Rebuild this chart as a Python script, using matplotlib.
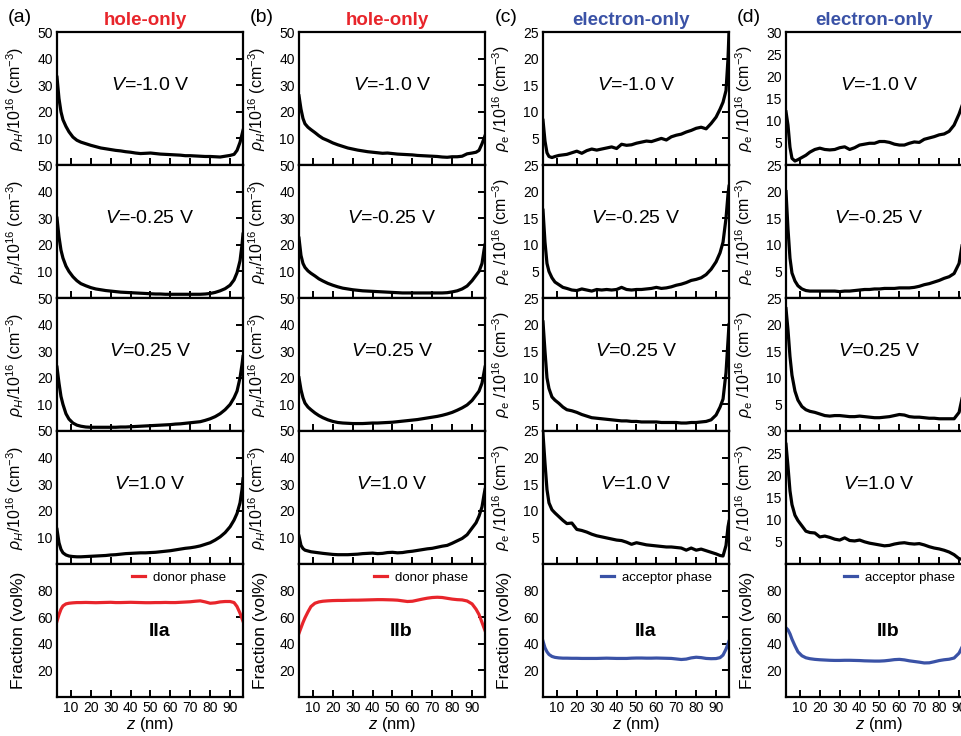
import matplotlib
matplotlib.use('Agg')
import matplotlib.pyplot as plt

# ---- fonts ----
plt.rcParams['font.family'] = ['Liberation Sans', 'DejaVu Sans']
plt.rcParams['mathtext.fontset'] = 'custom'
plt.rcParams['mathtext.rm'] = 'Liberation Sans'
plt.rcParams['mathtext.it'] = 'Liberation Sans:italic'
plt.rcParams['mathtext.bf'] = 'Liberation Sans:bold'

# ---- data ----
z_nm = [3, 4, 5, 6, 7.5, 9, 11, 13, 15, 17.5, 20, 22.5, 25, 27.5, 30, 32.5, 35, 37.5,
        40, 42.5, 45, 47.5, 50, 52.5, 55, 57.5, 60, 62.5, 65, 67.5, 70, 72.5, 75,
        77.5, 80, 82.5, 85, 87.5, 90, 92, 93.5, 95, 96, 96.5]

voltages = ['-1.0', '-0.25', '0.25', '1.0']

# (a) hole-only, IIa
hole_a_m10 = [33, 25, 20, 17, 14.5, 12.5, 10.5, 9.3, 8.6, 8.0, 7.4, 6.9, 6.4, 6.1, 5.8, 5.5, 5.3, 5.0,
              4.8, 4.5, 4.3, 4.4, 4.5, 4.3, 4.1, 4.0, 3.9, 3.8, 3.7, 3.5, 3.5, 3.4, 3.3,
              3.2, 3.2, 3.1, 3.0, 3.3, 3.6, 4.0, 5.5, 8.5, 11.5, 13]
hole_a_m025 = [30, 23, 18, 15, 12, 10, 8, 6.5, 5.4, 4.6, 3.9, 3.4, 3.1, 2.8, 2.6, 2.4, 2.2, 2.1,
               2.0, 1.9, 1.8, 1.7, 1.6, 1.5, 1.5, 1.4, 1.4, 1.4, 1.4, 1.4, 1.4, 1.4, 1.4,
               1.5, 1.7, 2.1, 2.7, 3.5, 4.8, 6.8, 9.5, 14, 20, 24]
hole_a_p025 = [24, 18, 13, 10, 6.5, 4.5, 3.0, 2.2, 1.8, 1.5, 1.4, 1.4, 1.4, 1.4, 1.4, 1.4, 1.5, 1.5,
               1.6, 1.7, 1.8, 1.9, 2.0, 2.1, 2.2, 2.3, 2.4, 2.6, 2.7, 2.9, 3.1, 3.3, 3.5,
               4.0, 4.6, 5.4, 6.5, 8.0, 10, 12.5, 15, 20, 25, 28]
hole_a_p10 = [13, 8, 5.5, 4.2, 3.4, 3.0, 2.8, 2.7, 2.7, 2.8, 2.9, 3.0, 3.1, 3.2, 3.4, 3.5, 3.7, 3.9,
              4.0, 4.1, 4.2, 4.2, 4.3, 4.4, 4.6, 4.8, 5.0, 5.3, 5.6, 5.9, 6.1, 6.4, 6.8,
              7.4, 8.0, 9.0, 10.2, 11.8, 14, 16.5, 19, 23, 28, 32]
frac_a = [57, 62, 66, 68.5, 70, 70.5, 70.8, 71, 71, 71.1, 71, 70.9, 71, 71.1, 71.2, 71, 71, 71.1,
          71.2, 71.1, 71, 70.9, 70.9, 71, 71, 71.1, 71, 71, 71.2, 71.4, 71.6, 72, 72.3,
          71.5, 70.5, 70.8, 71.5, 71.8, 71.8, 71, 68, 63, 59, 57]

# (b) hole-only, IIb
hole_b_m10 = [26, 21, 17.5, 15.5, 14.2, 13.3, 12.2, 11.0, 10.0, 9.2, 8.3, 7.6, 7.0, 6.4, 6.0, 5.6, 5.3, 5.0,
              4.8, 4.6, 4.4, 4.5, 4.3, 4.1, 4.0, 3.9, 3.8, 3.6, 3.5, 3.4, 3.3, 3.2, 3.0,
              2.9, 3.1, 3.1, 3.3, 4.2, 4.5, 4.8, 5.5, 8, 10, 11]
hole_b_m025 = [22.5, 16, 13, 11.5, 10.2, 9.3, 8.3, 7.2, 6.4, 5.5, 4.8, 4.2, 3.7, 3.4, 3.1, 2.9, 2.7, 2.6,
               2.5, 2.4, 2.3, 2.2, 2.1, 2.0, 1.9, 1.9, 1.9, 1.9, 1.9, 1.9, 1.9, 1.9, 1.9,
               2.0, 2.3, 2.7, 3.4, 4.5, 6.5, 8.5, 10, 13, 18, 20]
hole_b_p025 = [20, 15.5, 12.5, 10.5, 9, 8, 6.8, 5.8, 5.0, 4.2, 3.6, 3.2, 3.0, 2.9, 2.8, 2.8, 2.8, 2.9,
               3.0, 3.0, 3.1, 3.2, 3.3, 3.5, 3.7, 3.9, 4.1, 4.3, 4.6, 4.9, 5.2, 5.5, 5.9,
               6.4, 7.0, 7.8, 8.7, 9.8, 11.5, 13.5, 15, 18, 22, 24]
hole_b_p10 = [10.5, 7, 5.8, 5.2, 4.9, 4.6, 4.4, 4.2, 4.0, 3.8, 3.6, 3.5, 3.5, 3.5, 3.6, 3.7, 3.9, 4.0,
              4.1, 3.9, 4.0, 4.3, 4.4, 4.2, 4.3, 4.6, 4.8, 5.1, 5.4, 5.7, 5.9, 6.3, 6.7,
              7.0, 7.8, 8.7, 9.6, 11, 13.5, 15.5, 18, 21.5, 26, 28]
frac_b = [48, 52, 56, 59.5, 64, 68, 70.5, 71.5, 72, 72.3, 72.5, 72.6, 72.6, 72.7, 72.8, 72.8, 72.9, 73,
          73.1, 73.2, 73.2, 73.1, 73, 72.8, 72.3, 71.8, 72, 72.8, 73.6, 74.3, 74.8, 75, 74.8,
          74.2, 73.6, 73.2, 73, 72.2, 70, 66, 62, 56, 52, 50]

# (c) electron-only, IIa
elec_c_m10 = [8.4, 4.5, 2.3, 1.6, 1.4, 1.6, 1.8, 1.9, 2.0, 2.3, 2.6, 2.2, 2.7, 3.0, 2.8, 3.0, 3.2, 3.4,
              3.1, 3.9, 3.7, 3.8, 4.1, 4.3, 4.5, 4.4, 4.7, 5.0, 4.7, 5.3, 5.6, 5.8, 6.2,
              6.5, 6.9, 7.1, 6.8, 7.8, 9.0, 10.5, 11.8, 14, 20, 25]
elec_c_m025 = [16.5, 10.5, 6.5, 5.0, 3.8, 3.0, 2.5, 2.0, 1.8, 1.5, 1.4, 1.7, 1.5, 1.3, 1.6, 1.5, 1.6, 1.5,
               1.6, 2.0, 1.6, 1.5, 1.6, 1.6, 1.7, 1.8, 2.0, 1.8, 1.9, 2.1, 2.4, 2.6, 2.9,
               3.3, 3.5, 3.8, 4.4, 5.4, 6.8, 8.5, 10.5, 15, 19.5, 21]
elec_c_p025 = [20.5, 15, 10, 8, 6.4, 5.8, 5.2, 4.5, 4.0, 3.8, 3.5, 3.1, 2.8, 2.5, 2.4, 2.3, 2.2, 2.1,
               2.0, 1.9, 1.9, 1.8, 1.8, 1.7, 1.7, 1.7, 1.7, 1.6, 1.6, 1.6, 1.6, 1.5, 1.5,
               1.6, 1.6, 1.7, 1.8, 2.1, 3.0, 4.5, 6.0, 11, 17, 20]
elec_c_p10 = [24.5, 19, 14, 11.5, 10.2, 9.6, 8.9, 8.2, 7.6, 7.7, 6.5, 6.3, 6.0, 5.6, 5.3, 5.1, 4.9, 4.7,
              4.5, 4.4, 4.1, 3.7, 4.0, 3.8, 3.6, 3.5, 3.4, 3.3, 3.2, 3.2, 3.1, 3.0, 2.6,
              3.0, 2.6, 2.8, 2.5, 2.2, 1.9, 1.6, 1.5, 3.5, 7, 8]
frac_c = [42, 37, 34, 32, 30.5, 29.8, 29.4, 29.2, 29.2, 29.1, 29.1, 29.0, 29.0, 29.0, 29.0, 29.1, 29.2, 29.1,
          29.0, 29.0, 29.0, 29.2, 29.3, 29.3, 29.2, 29.2, 29.3, 29.2, 29.1, 29.0, 28.6, 28.2, 28.5,
          29.4, 29.9, 29.6, 29.0, 28.8, 28.9, 29.6, 31.5, 36, 40, 42]

# (d) electron-only, IIb
elec_d_m10 = [12, 9, 4, 1.5, 0.9, 1.2, 1.7, 2.2, 2.9, 3.5, 3.8, 3.5, 3.4, 3.5, 3.9, 4.1, 3.5, 3.9,
              4.5, 4.7, 4.9, 4.9, 5.3, 5.3, 5.1, 4.7, 4.5, 4.5, 4.9, 5.2, 5.1, 5.8, 6.1,
              6.4, 6.8, 7.0, 7.6, 9.0, 11.5, 14, 17, 22, 26, 28]
elec_d_m025 = [20, 13, 7.5, 4.7, 3.2, 2.3, 1.7, 1.4, 1.3, 1.3, 1.3, 1.3, 1.3, 1.3, 1.2, 1.3, 1.3, 1.4,
               1.5, 1.6, 1.6, 1.7, 1.7, 1.8, 1.8, 1.8, 1.9, 1.9, 1.9, 2.0, 2.2, 2.5, 2.7,
               3.0, 3.3, 3.7, 4.0, 4.6, 6.5, 11, 15, 19, 22, 24]
elec_d_p025 = [23, 19, 14, 10.5, 7.5, 5.8, 4.6, 4.0, 3.7, 3.5, 3.2, 2.9, 2.8, 2.9, 2.9, 2.8, 2.7, 2.7,
               2.8, 2.7, 2.6, 2.5, 2.5, 2.6, 2.7, 2.9, 3.1, 3.0, 2.7, 2.6, 2.6, 2.5, 2.4,
               2.4, 2.3, 2.3, 2.3, 2.3, 3.5, 7, 11, 16, 20, 22]
elec_d_p10 = [27, 22, 16.5, 13.4, 11, 9.8, 8.6, 7.4, 7.1, 7.0, 6.1, 6.3, 6.0, 5.6, 5.4, 5.9, 5.3, 5.2,
              5.4, 5.0, 4.7, 4.5, 4.3, 4.1, 4.2, 4.5, 4.7, 4.8, 4.6, 4.5, 4.6, 4.3, 3.9,
              3.6, 3.4, 3.1, 2.7, 2.1, 1.2, 1.0, 1.2, 3, 6, 8]
frac_d = [52, 50.5, 47.5, 43.5, 38.5, 34, 31, 29.5, 28.8, 28.3, 28, 27.8, 27.6, 27.5, 27.5, 27.6, 27.6, 27.5,
          27.4, 27.2, 27.1, 27.0, 27.0, 27.2, 27.6, 28.1, 28.3, 27.9, 27.2, 26.7, 26.2, 25.6, 25.7,
          26.5, 27.4, 28.0, 28.4, 29.3, 33, 39, 44, 48, 50, 51]

RED = '#e8252b'
BLUE = '#3a52a6'

columns = [
    dict(tag='(a)', title='hole-only', color=RED, rows=[hole_a_m10, hole_a_m025, hole_a_p025, hole_a_p10],
         tops=[50, 50, 50, 50], step=10, ylabel=r'$\rho_{H}$/10$^{16}$ (cm$^{-3}$)',
         frac=frac_a, phase='donor phase', struct='IIa'),
    dict(tag='(b)', title='hole-only', color=RED, rows=[hole_b_m10, hole_b_m025, hole_b_p025, hole_b_p10],
         tops=[50, 50, 50, 50], step=10, ylabel=r'$\rho_{H}$/10$^{16}$ (cm$^{-3}$)',
         frac=frac_b, phase='donor phase', struct='IIb'),
    dict(tag='(c)', title='electron-only', color=BLUE, rows=[elec_c_m10, elec_c_m025, elec_c_p025, elec_c_p10],
         tops=[25, 25, 25, 25], step=5, ylabel=r'$\rho_{\rm e}$ /10$^{16}$ (cm$^{-3}$)',
         frac=frac_c, phase='acceptor phase', struct='IIa'),
    dict(tag='(d)', title='electron-only', color=BLUE, rows=[elec_d_m10, elec_d_m025, elec_d_p025, elec_d_p10],
         tops=[30, 25, 25, 30], step=5, ylabel=r'$\rho_{\rm e}$ /10$^{16}$ (cm$^{-3}$)',
         frac=frac_d, phase='acceptor phase', struct='IIb'),
]

# ---- layout (pixels -> figure fraction) ----
W, H = 962, 736
col_left_px = [57, 299, 543, 786]
ax_w_px = 186
top_px = 32
row_h_px = 133

fig = plt.figure(figsize=(W / 100, H / 100), dpi=100)


def style_axis(ax):
    for s in ax.spines.values():
        s.set_linewidth(1.6)
    ax.set_xlim(3, 96.5)
    ax.set_xticks(range(10, 100, 10))
    ax.tick_params(axis='x', direction='in', top=False, bottom=True, length=5, width=1.4,
                   labelsize=10, pad=3)
    ax.tick_params(axis='y', direction='in', left=False, right=True, labelleft=True,
                   length=5, width=1.4, labelsize=10, pad=3)


for ci, col in enumerate(columns):
    x0 = col_left_px[ci] / W
    w = ax_w_px / W
    for ri in range(5):
        y0 = 1 - (top_px + row_h_px * (ri + 1)) / H
        ax = fig.add_axes([x0, y0, w, row_h_px / H])
        style_axis(ax)
        ax.yaxis.set_label_coords(-0.165, 0.5)
        if ri < 4:
            ax.plot(z_nm, col['rows'][ri], color='black', lw=2.3, solid_joinstyle='round')
            ax.set_ylim(0, col['tops'][ri])
            ax.set_yticks(range(col['step'], col['tops'][ri] + 1, col['step']))
            ax.set_ylabel(col['ylabel'], fontsize=11.5)
            ax.text(0.5, 0.6, r'$V$=' + voltages[ri] + ' V', transform=ax.transAxes,
                    ha='center', va='center', fontsize=14)
            ax.tick_params(axis='x', labelbottom=False)
            if ri == 0:
                ax.set_title(col['title'], color=col['color'], fontweight='bold',
                             fontsize=13.5, pad=5, x=0.475)
                ax.text(-0.2, 1.11, col['tag'], transform=ax.transAxes,
                        ha='center', va='center', fontsize=14)
        else:
            ax.plot(z_nm, col['frac'], color=col['color'], lw=2.3, label=col['phase'])
            ax.set_ylim(0, 100)
            ax.set_yticks([20, 40, 60, 80])
            ax.set_ylabel('Fraction (vol%)', fontsize=12.5)
            ax.set_xlabel(r'$z$ (nm)', fontsize=12, labelpad=0)
            ax.text(0.55, 0.49, col['struct'], transform=ax.transAxes, ha='center',
                    va='center', fontsize=14, fontweight='bold')
            ax.legend(loc='center right', bbox_to_anchor=(0.91, 0.895), frameon=False,
                      fontsize=9.5, handlelength=1.0, handletextpad=0.6, borderpad=0,
                      borderaxespad=0)

fig.savefig('out.png', dpi=100)
